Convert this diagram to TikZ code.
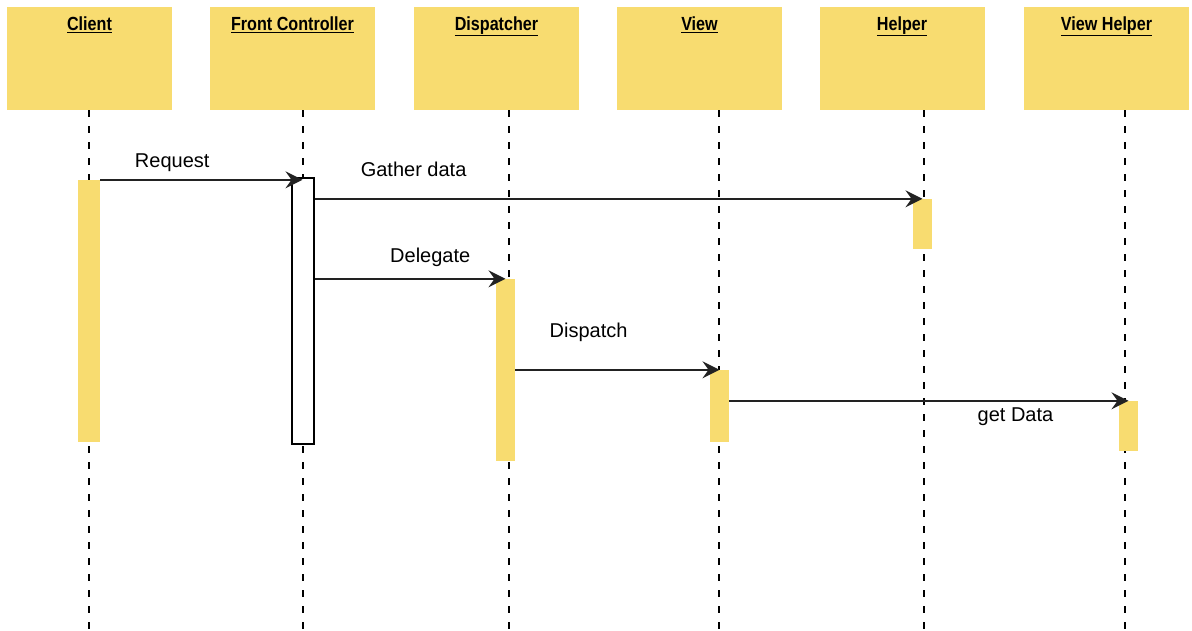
\documentclass[tikz,border=0pt]{standalone}
\usepackage{fontspec}
\setmainfont{Liberation Sans}
\newfontfamily\headfont[FakeStretch=0.85]{Liberation Sans}
\usepackage{xcolor}
\usetikzlibrary{
	arrows.meta,
	positioning,
	backgrounds
}
\definecolor{noteyellow}{HTML}{F8DC70}
\definecolor{wire}{HTML}{222222}

\begin{document}
\begin{tikzpicture}[
        x=1pt, y=-1pt,
        >={Stealth[length=17pt, width=17pt, inset=6pt]},
        % participant header (yellow box, title at the top)
        head/.style={
            rectangle, fill=noteyellow, anchor=north,
            minimum width=165pt,
            inner xsep=0pt, inner ysep=9pt,
            text height=14pt, text depth=71pt,
            font=\headfont\bfseries\fontsize{19}{22}\selectfont
        },
        % activation bar
        actbar/.style={
            rectangle, fill=noteyellow, inner sep=0pt,
            minimum width=19pt
        },
        % dashed life line
        lifeline/.style={
            line width=2pt, dash pattern=on 7pt off 9pt
        },
        % message arrow
        msg/.style={
            ->, line width=2pt, draw=wire
        },
        % message text
        msgtext/.style={
            anchor=base, inner sep=0pt,
            font=\fontsize{20}{24}\selectfont
        }
    ]

        \useasboundingbox (0,0) rectangle (1192,630);

        % ====================
        % Participants
        % ====================
        \node[head] (client) at (89.5,7)   {\underline{Client}};
        \node[head] (front)  at (292.5,7)  {\underline{Front Controller}};
        \node[head] (disp)   at (496.5,7)  {\underline{Dispatcher}};
        \node[head] (view)   at (699.5,7)  {\underline{View}};
        \node[head] (helper) at (902,7)    {\underline{Helper}};
        \node[head] (vhelp)  at (1106.5,7) {\underline{View Helper}};

        % ====================
        % Activation bars
        % ====================
        \node[actbar, minimum width=22pt, minimum height=262pt] (clientbar) at (89,311) {};
        \node[actbar, fill=white, draw=black, line width=2pt,
              minimum width=22pt, minimum height=266pt] (frontbar) at (302.5,311) {};
        \node[actbar, minimum height=50pt]  (helperbar) at (922.5,224) {};
        \node[actbar, minimum height=182pt] (dispbar)   at (505.5,370) {};
        \node[actbar, minimum height=72pt]  (viewbar)   at (719.5,406) {};
        \node[actbar, minimum height=50pt]  (vhelpbar)  at (1128.5,426) {};

        % life lines behind everything
        \begin{scope}[on background layer]
            \foreach \who/\x in {client/89, front/303, disp/509, view/719, helper/924, vhelp/1125}
                \draw[lifeline] (\who.south -| \x,0) -- (\x,630);
        \end{scope}

        % ====================
        % Messages
        % ====================
        \draw[msg] (clientbar.north east) -- node[msgtext, pos=0.356, yshift=12pt] {Request}
            (clientbar.north east -| frontbar.north);
        \draw[msg] (frontbar.east |- helperbar.north) -- node[msgtext, pos=0.163, yshift=22pt] {Gather data}
            (helperbar.north);
        \draw[msg] (frontbar.east |- dispbar.north) -- node[msgtext, pos=0.606, yshift=16pt] {Delegate}
            (dispbar.north);
        \draw[msg] (dispbar.east |- viewbar.north) -- node[msgtext, pos=0.359, yshift=32pt] {Dispatch}
            (viewbar.north);
        \draw[msg] (viewbar.east |- vhelpbar.north) -- node[msgtext, pos=0.717, yshift=-21pt] {get Data}
            (vhelpbar.north);

    \end{tikzpicture}
\end{document}
